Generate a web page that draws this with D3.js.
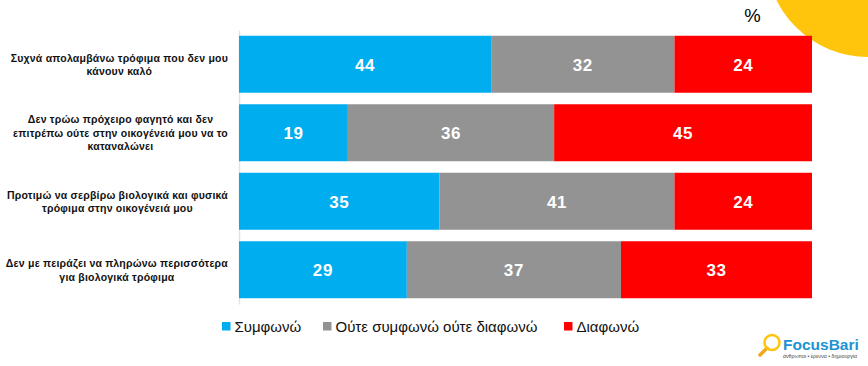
<!DOCTYPE html>
<html>
<head>
<meta charset="utf-8">
<script src="https://cdnjs.cloudflare.com/ajax/libs/d3/7.8.5/d3.min.js"></script>
<style>
  html, body { margin: 0; padding: 0; background: #fff; }
  svg { display: block; }
  text { font-family: "Liberation Sans", Arial, sans-serif; }
</style>
</head>
<body>
<div id="graph-container"></div>
<script>
// Chart data
var statements = [
  ["Συχνά απολαμβάνω τρόφιμα που δεν μου", "κάνουν καλό"],
  ["Δεν τρώω πρόχειρο φαγητό και δεν", "επιτρέπω ούτε στην οικογένειά μου να το", "καταναλώνει"],
  ["Προτιμώ να σερβίρω βιολογικά και φυσικά", "τρόφιμα στην οικογένειά μου"],
  ["Δεν με πειράζει να πληρώνω περισσότερα", "για βιολογικά τρόφιμα"]
];
var seriesNames = ["Συμφωνώ", "Ούτε συμφωνώ ούτε διαφωνώ", "Διαφωνώ"];
var agree = [44, 19, 35, 29];
var neutral = [32, 36, 41, 37];
var disagree = [24, 45, 24, 33];
var colors = ["#00AEEF", "#939393", "#FF0000"];

var svgWidth = 868;
var svgHeight = 366;

var svg = d3.select("#graph-container")
  .append("svg")
  .attr("width", svgWidth)
  .attr("height", svgHeight);

// Yellow corner circle, sits behind the bars
svg.append("circle")
  .attr("cx", 868)
  .attr("cy", -45)
  .attr("r", 102)
  .attr("fill", "#FFC40C");

// Percent sign
svg.append("text")
  .attr("x", 752.5)
  .attr("y", 21.5)
  .attr("text-anchor", "middle")
  .style("font-size", "18.5px")
  .text("%");

// Rows are built from the small arrays, each row fills the whole width
var rows = statements.map(function (d, i) {
  return { index: i, a: agree[i], b: neutral[i], c: disagree[i] };
});
var stack = d3.stack()
  .keys(["a", "b", "c"])
  .offset(d3.stackOffsetExpand);
var layers = stack(rows);

var xScale = d3.scaleLinear().domain([0, 1]).range([239, 812]);
var yScale = d3.scaleBand()
  .domain(d3.range(statements.length))
  .range([30, 304])
  .paddingInner(0.168)
  .paddingOuter(0.084);

// Vertical axis line
var yAxis = d3.axisLeft(yScale).tickSize(0).tickFormat("");
svg.append("g")
  .attr("transform", "translate(239,0)")
  .call(yAxis)
  .select(".domain")
  .attr("stroke", "#e4e4e4")
  .attr("stroke-width", 1.5);

// Stacked bars
var layer = svg.selectAll(".layer")
  .data(layers)
  .enter()
  .append("g")
  .attr("class", "layer")
  .attr("fill", function (d, i) { return colors[i]; });

layer.selectAll("rect")
  .data(function (d) { return d; })
  .enter()
  .append("rect")
  .attr("x", function (d) { return xScale(d[0]); })
  .attr("y", function (d) { return yScale(d.data.index); })
  .attr("width", function (d) { return xScale(d[1]) - xScale(d[0]); })
  .attr("height", yScale.bandwidth());

// Value labels
layer.selectAll("text")
  .data(function (d) {
    return d.map(function (p) { return { p: p, key: d.key }; });
  })
  .enter()
  .append("text")
  .attr("x", function (d) { return xScale((d.p[0] + d.p[1]) / 2); })
  .attr("y", function (d) { return yScale(d.p.data.index) + yScale.bandwidth() / 2 + 6.5; })
  .attr("text-anchor", "middle")
  .attr("fill", "#fff")
  .style("font-size", "17px")
  .style("font-weight", "bold")
  .style("letter-spacing", "0.6px")
  .text(function (d) { return d.p.data[d.key]; });

// Statement labels, one tspan per line
var lineHeight = 13.5;
var labelRight = 228;
var labels = svg.selectAll(".statement")
  .data(statements)
  .enter()
  .append("text")
  .attr("class", "statement")
  .attr("text-anchor", "middle")
  .attr("fill", "#111")
  .style("font-size", "10.5px")
  .style("font-weight", "bold")
  .style("letter-spacing", "0.22px");

var lines = labels.selectAll("tspan")
  .data(function (d, i) {
    return d.map(function (t, j) { return { t: t, j: j, n: d.length, row: i }; });
  })
  .enter()
  .append("tspan")
  .attr("y", function (d) {
    var mid = yScale(d.row) + yScale.bandwidth() / 2;
    return mid + (d.j - (d.n - 1) / 2) * lineHeight + 4;
  })
  .text(function (d) { return d.t; });

// The lines of a block are centred on each other, the longest one ends at labelRight
labels.each(function () {
  var spans = d3.select(this).selectAll("tspan");
  var longest = d3.max(spans.nodes(), function (n) { return n.getComputedTextLength(); });
  spans.attr("x", labelRight - longest / 2);
});

// Legend
var legendX = [222, 323, 564];
var legend = svg.selectAll(".legend")
  .data(seriesNames)
  .enter()
  .append("g")
  .attr("class", "legend")
  .attr("transform", function (d, i) { return "translate(" + legendX[i] + ",322)"; });

legend.append("rect")
  .attr("width", 8.5)
  .attr("height", 8.5)
  .attr("fill", function (d, i) { return colors[i]; });

legend.append("text")
  .attr("x", 12.5)
  .attr("y", 10)
  .attr("fill", "#111")
  .style("font-size", "15px")
  .text(function (d) { return d; });

// FocusBari logo
var logo = svg.append("g");
logo.append("line")
  .attr("x1", 767).attr("y1", 348)
  .attr("x2", 760).attr("y2", 355)
  .attr("stroke", "#F2A81D")
  .attr("stroke-width", 3.5)
  .attr("stroke-linecap", "round");
logo.append("circle")
  .attr("cx", 772)
  .attr("cy", 342.5)
  .attr("r", 7.5)
  .attr("fill", "none")
  .attr("stroke", "#FFC40C")
  .attr("stroke-width", 2.5);
logo.append("text")
  .attr("x", 783)
  .attr("y", 350)
  .attr("fill", "#1C93D2")
  .style("font-size", "15.5px")
  .style("font-weight", "bold")
  .text("FocusBari");
logo.append("text")
  .attr("x", 783)
  .attr("y", 357.5)
  .attr("fill", "#444")
  .style("font-size", "5px")
  .attr("textLength", 74)
  .attr("lengthAdjust", "spacingAndGlyphs")
  .text("άνθρωποι • έρευνα • δημιουργία");
</script>
</body>
</html>
